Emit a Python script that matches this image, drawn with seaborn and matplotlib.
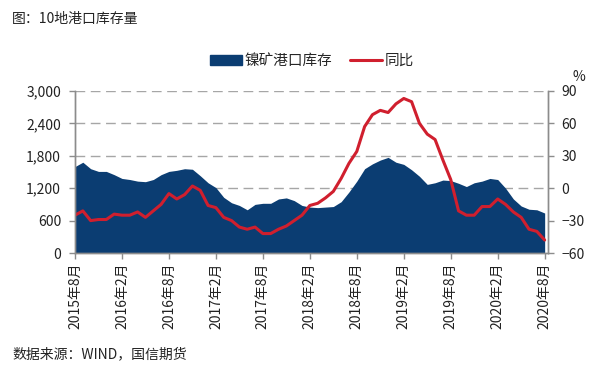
import numpy as np
import pandas as pd
import matplotlib
matplotlib.use("Agg")
import matplotlib.pyplot as plt
import seaborn as sns
from matplotlib.patches import Patch
from matplotlib.lines import Line2D

# ── Data (monthly, 2015-08 .. 2020-08) ──
inventory = [1600, 1680, 1560, 1510, 1510, 1450, 1380, 1360, 1330, 1320,
             1360, 1450, 1510, 1530, 1560, 1550, 1430, 1300, 1210, 1030,
             930, 880, 800, 900, 920, 920, 1000, 1020, 970, 880,
             850, 840, 850, 860, 950, 1130, 1330, 1560, 1650, 1720,
             1770, 1680, 1640, 1540, 1420, 1270, 1300, 1350, 1340, 1290,
             1230, 1300, 1330, 1380, 1360, 1200, 1000, 870, 810, 800, 740]
yoy = [-25, -21, -30, -29, -29, -24, -25, -25, -22, -27,
       -21, -15, -5, -10, -6, 2, -2, -16, -18, -27,
       -30, -36, -38, -36, -42, -42, -38, -35, -30, -25,
       -16, -14, -9, -3, 9, 23, 34, 57, 68, 72,
       70, 78, 83, 80, 60, 50, 45, 26, 8, -21,
       -25, -25, -17, -17, -10, -15, -22, -27, -38, -40, -48]
tick_labels = ["2015年8月", "2016年2月", "2016年8月", "2017年2月", "2017年8月",
               "2018年2月", "2018年8月", "2019年2月", "2019年8月", "2020年2月",
               "2020年8月"]

df = pd.DataFrame({"month": np.arange(len(inventory)),
                   "inventory": inventory, "yoy": yoy})

BLUE = "#0b3d72"
RED = "#d01f2e"
AXIS = "#8c8c8c"

sns.set_style("white")
plt.rcParams["font.family"] = ["Noto Sans CJK SC", "DejaVu Sans"]

fig = plt.figure(figsize=(6, 3.71), dpi=100)
ax = fig.add_axes([0.125, 0.318, 0.788, 0.437])
ax2 = ax.twinx()

# ── Area: port inventory ──
ax.fill_between(df["month"], df["inventory"], 0, color=BLUE, lw=0, zorder=2)
ax.set_ylim(0, 3000)
ax.set_yticks(np.arange(0, 3001, 600))
ax.set_yticklabels([f"{v:,}" for v in range(0, 3001, 600)])
ax.set_axisbelow(True)
ax.yaxis.grid(True, ls=(0, (7, 4)), color="#a6a6a6", lw=1)
ax.set_xlim(0, 60.4)
ax.set_xticks(np.arange(0, 61, 6))
ax.set_xticklabels(tick_labels, rotation=90)

# ── Line: YoY ──
sns.lineplot(data=df, x="month", y="yoy", ax=ax2, color=RED, lw=2.2)
ax2.set_ylim(-60, 90)
ax2.set_yticks(np.arange(-60, 91, 30))
ax2.set_xlim(0, 60.4)
ax2.set_xlabel("")
ax2.set_ylabel("")
ax.set_xlabel("")
ax.set_ylabel("")

for a in (ax, ax2):
    a.spines["top"].set_visible(False)
    for side in ("left", "right", "bottom"):
        a.spines[side].set_color(AXIS)
        a.spines[side].set_linewidth(1)
    a.tick_params(axis="both", length=4, width=1, color=AXIS,
                  labelsize=10, labelcolor="#222222", direction="out")
ax.tick_params(axis="y", left=True, pad=6)
ax.tick_params(axis="x", bottom=True, pad=3)
ax2.tick_params(axis="y", right=True, pad=6)

ax2.text(1.065, 1.04, "%", transform=ax2.transAxes, fontsize=10,
         ha="center", va="bottom", color="#222222")

handles = [Patch(facecolor=BLUE, edgecolor=BLUE),
           Line2D([0], [0], color=RED, lw=2.2)]
fig.legend(handles, ["镍矿港口库存", "同比"], loc="center",
           bbox_to_anchor=(0.52, 0.835), ncol=2, frameon=False,
           fontsize=10.5, handlelength=2.2, handletextpad=0.2,
           columnspacing=1.2)

fig.text(0.02, 0.95, "图：10地港口库存量", fontsize=10, color="#222222",
         ha="left", va="center")
fig.text(0.02, 0.045, "数据来源：WIND，国信期货", fontsize=10,
         color="#222222", ha="left", va="center")

fig.savefig("out.png", dpi=100, facecolor="white")
plt.close(fig)
